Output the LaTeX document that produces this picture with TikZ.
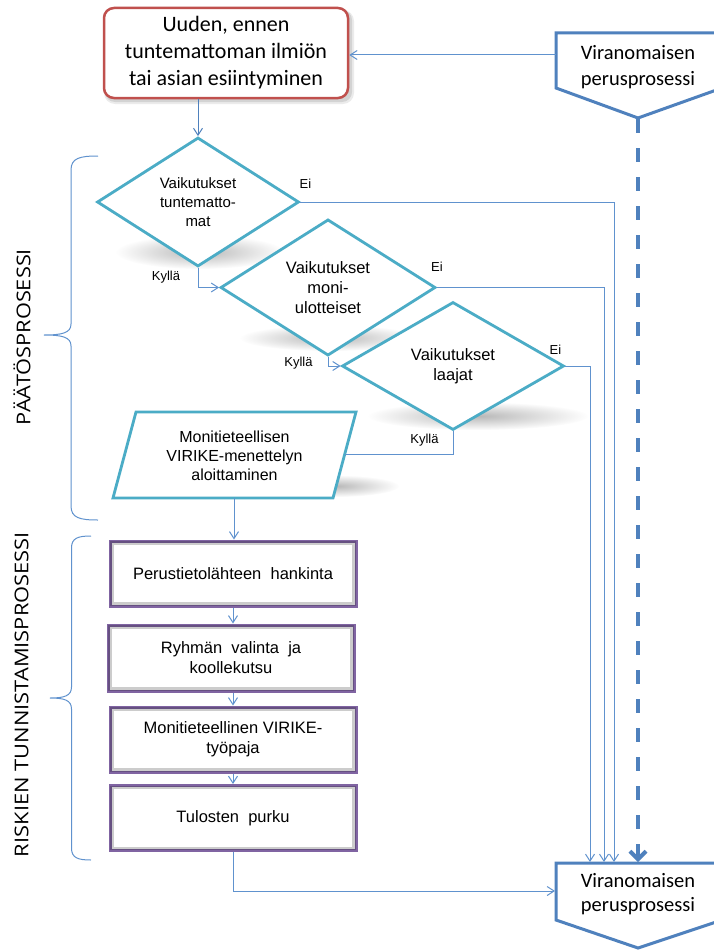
\documentclass[tikz,border=0pt]{standalone}
\usepackage{fontspec}
\setmainfont{Liberation Sans}
\newfontfamily\calibri{Carlito}
\newfontfamily\sidefont{Open Sans}
\usetikzlibrary{arrows.meta,shapes.geometric,fadings,calc}
\definecolor{cTeal}{RGB}{75,172,198}
\definecolor{cPurple}{RGB}{128,100,162}
\definecolor{cRed}{RGB}{192,80,77}
\definecolor{cBlue}{RGB}{79,129,189}
\definecolor{cLine}{RGB}{96,146,206}
\tikzfading[name=fuzzy, inner color=transparent!0, outer color=transparent!100]
\newcommand{\fs}[2]{\fontsize{#1pt}{#2pt}\selectfont}
\begin{document}
\begin{tikzpicture}[x=1pt,y=-1pt,
  conn/.style={cLine, line width=1pt, -{Straight Barb[length=7pt,width=9pt]}},
  connplain/.style={cLine, line width=1pt},
  decision/.style={diamond, draw=cTeal, line width=2.8pt, fill=white, inner sep=0pt, align=center},
  pbox/.style={rectangle, draw=cPurple, line width=3pt, fill=white, minimum width=246pt, minimum height=65pt, align=center, font=\fs{16.5}{20}},
  lab/.style={font=\fs{13}{15}, inner sep=0pt},
  shadowblob/.style={black!28, path fading=fuzzy},
  brace/.style={cLine, line width=1pt},
  pent/.style={draw=cBlue, line width=3pt, fill=white, line join=miter},
  side/.style={rotate=90, font=\sidefont\fs{19}{24}, inner sep=0pt}
]
\useasboundingbox (0,0) rectangle (714,950);
\clip (0,0) rectangle (714,950);
\fill[white] (0,0) rectangle (714,950);

% shadows
\fill[shadowblob] (200,252) ellipse (84 and 17);
\fill[shadowblob] (330,338) ellipse (90 and 13);
\fill[shadowblob] (478,416) ellipse (110 and 14);
\fill[shadowblob] (335,486) ellipse (64 and 11);
\fill[black, opacity=0.08, rounded corners=11pt] (104,10) rectangle (354,104);
\fill[black, opacity=0.10, rounded corners=10pt] (105,10) rectangle (352,102);

% start box
\node[draw=cRed, line width=2.5pt, fill=white, rounded corners=10pt, minimum width=244pt, minimum height=90pt, align=center, font=\calibri\fs{22}{27}] (start) at (226,53)
  {Uuden, ennen\\tuntemattoman ilmiön\\tai asian esiintyminen};

% top pentagon
\draw[pent] (556,33) -- (722,33) -- (722,88) -- (638,118) -- (556,88) -- cycle;
\node[font=\calibri\fs{20.5}{26}, align=center] (vpT) at (638,67) {Viranomaisen\\perusprosessi};
\coordinate (vpTL) at (556,55);
\coordinate (vpTtip) at (638,119);

% bottom pentagon
\draw[pent] (556,863) -- (722,863) -- (722,920) -- (638,948) -- (556,920) -- cycle;
\node[font=\calibri\fs{20.5}{24}, align=center] (vpB) at (638,894) {Viranomaisen\\perusprosessi};
\coordinate (vpBL) at (555,891);
\coordinate (in1) at (614,862);
\coordinate (in2) at (604,862);
\coordinate (in3) at (590,862);
\coordinate (inD) at (638,862);

% decisions
\node[decision, minimum width=202pt, minimum height=129pt, font=\fs{15}{19}] (d1) at (198,202) {Vaikutukset\\tuntematto-\\mat};
\node[decision, minimum width=215pt, minimum height=129pt, font=\fs{16.5}{20}] (d2) at (328,287.5) {Vaikutukset\\moni-\\ulotteiset};
\node[decision, minimum width=222pt, minimum height=128pt, font=\fs{16.5}{20}] (d3) at (453,366) {Vaikutukset\\laajat};

% parallelogram
\draw[cTeal, line width=2.8pt, fill=white, line join=miter] (136,412) -- (356,412) -- (333,498) -- (113,498) -- cycle;
\node[align=center, font=\fs{16}{19}] (para) at (234.5,456) {Monitieteellisen\\VIRIKE-menettelyn\\aloittaminen};
\coordinate (paraR) at (345,454);
\coordinate (paraB) at (234,498);

% process boxes
\node[pbox] (b1) at (233,573.5) {Perustietolähteen\ \ hankinta};
\node[pbox, minimum height=66pt] (b2) at (231,658) {Ryhmän\ \ valinta\ \ ja\\koollekutsu};
\node[pbox] (b3) at (233,739.5) {Monitieteellinen VIRIKE-\\työpaja};
\node[pbox] (b4) at (233,818) {Tulosten\ \ purku};
\foreach \b in {b1,b2,b3,b4}{
  \draw[black, opacity=0.2, line width=3.5pt] ([shift={(3.5,3.5)}]\b.north west) rectangle ([shift={(-3.5,-3.5)}]\b.south east);
}

% labels
\node[lab] (e1) at (305.5,183.5) {Ei};
\node[lab] (k1) at (166,277) {Kyllä};
\node[lab] (e2) at (437,267) {Ei};
\node[lab] (k2) at (298.5,363) {Kyllä};
\node[lab] (e3) at (555.5,350) {Ei};
\node[lab] (k3) at (424.5,440.5) {Kyllä};

% connectors
\draw[conn] (vpTL) -- (start.east |- vpTL);
\draw[conn, cBlue] (start.south -| d1.north) -- (d1.north);
\draw[conn] (d1.south) |- (d2.west);
\draw[conn] (d2.south) |- (d3.west);
\draw[connplain] (d3.south) |- (paraR);
\draw[conn] (d1.east) -| (in1);
\draw[conn] (d2.east) -| (in2);
\draw[conn] (d3.east) -| (in3);
\draw[conn] (paraB) -- (paraB |- b1.north);
\draw[conn] (b1.south) -- (b1.south |- b2.north);
\draw[conn] (b2.south -| b1.south) -- (b1.south |- b3.north);
\draw[conn] (b3.south) -- (b3.south |- b4.north);
\draw[conn] (b4.south) |- (vpBL);
\draw[cBlue, line width=4pt, dash pattern=on 14pt off 15pt, -{Straight Barb[length=8pt,width=16pt]}] (vpTtip) -- (inD);

% braces
\draw[brace] (98,156) .. controls (80,156) and (71,158) .. (71,170) -- (71,324) .. controls (71,333) and (62,335) .. (44,335) .. controls (62,335) and (71,337) .. (71,346) -- (71,506) .. controls (71,518) and (80,520) .. (98,520);
\draw[brace] (91,536) .. controls (78,536) and (71.5,538) .. (71.5,548) -- (71.5,687) .. controls (71.5,696) and (64,698) .. (50,698) .. controls (64,698) and (71.5,700) .. (71.5,709) -- (71.5,848) .. controls (71.5,858) and (78,860) .. (91,860);

% side labels
\node[side] (sideA) at (22,337) {\resizebox{176pt}{\height}{PÄÄTÖSPROSESSI}};
\node[side] (sideB) at (21.5,694.5) {\resizebox{325pt}{\height}{RISKIEN TUNNISTAMISPROSESSI}};
\end{tikzpicture}
\end{document}
